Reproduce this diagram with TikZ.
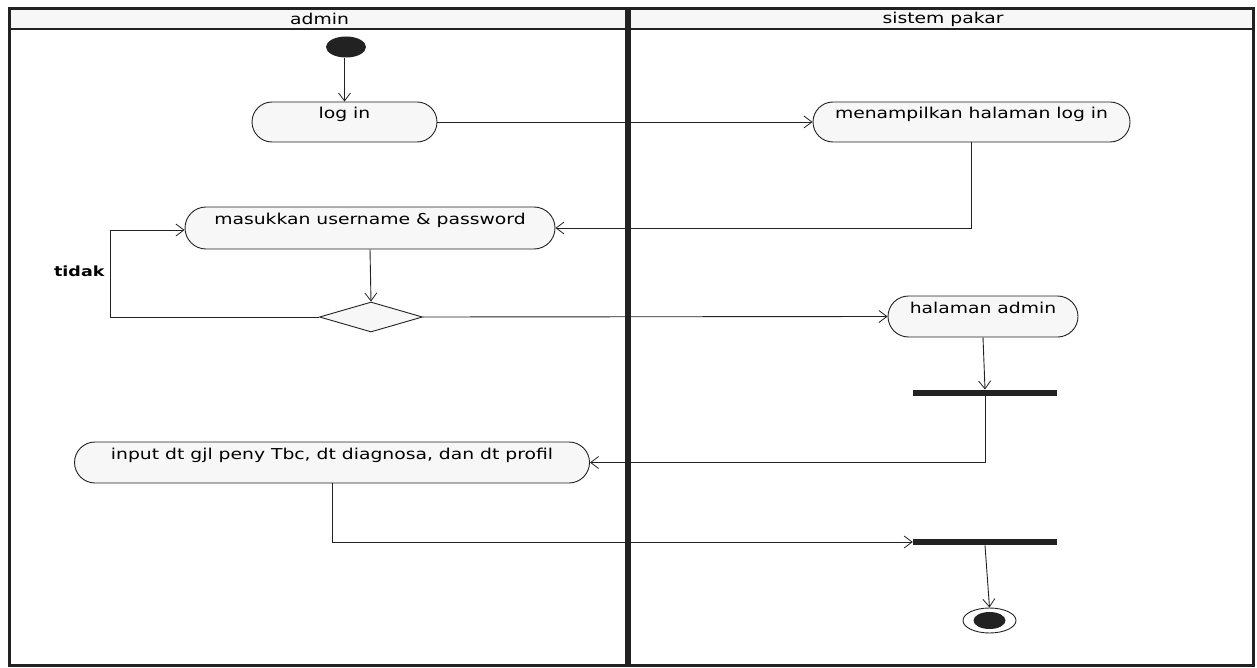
\documentclass[tikz,border=0pt]{standalone}
\usepackage{fontspec}
\usetikzlibrary{arrows.meta,shapes.misc,shapes.geometric}
\newfontfamily\umlfont[FakeStretch=1.25]{DejaVu Sans}
\definecolor{nodefill}{HTML}{F7F7F7}
\definecolor{ink}{HTML}{222222}
\begin{document}
\begin{tikzpicture}[x=1pt,y=-1pt,
  act/.style={rounded rectangle, rounded rectangle arc length=180, draw=ink, line width=0.9pt, fill=nodefill,
    inner sep=0pt, text height=8pt, text depth=15pt, font=\umlfont\fontsize{15}{15}\selectfont},
  bar/.style={rectangle, fill=ink, inner sep=0pt, minimum width=144pt, minimum height=6.5pt},
  flow/.style={draw=ink, line width=0.9pt, -{Straight Barb[length=8pt,width=12pt,line width=0.8pt]}},
  lane/.style={font=\umlfont\fontsize{15}{15}\selectfont}]
\useasboundingbox (0,0) rectangle (1257,668);
% frame
\fill[gray!6] (9,9) rectangle (1253,29);
\draw[ink, line width=3pt] (9,9) rectangle (1253,665);
\draw[ink, line width=1.6pt] (9,29) -- (1253,29);
\draw[ink, line width=6pt] (628,8) -- (628,666);
\node[lane] (laneA) at (319.5,19) {admin};
\node[lane] (laneB) at (943,19) {sistem pakar};
% nodes
\node[ellipse, fill=ink, minimum width=40pt, minimum height=21pt, inner sep=0pt] (start) at (346,47) {};
\node[act, minimum width=185pt, minimum height=40pt] (login) at (344.5,122) {log in};
\node[act, minimum width=317pt, minimum height=40pt] (men) at (971.5,122) {menampilkan halaman log in};
\node[act, minimum width=370pt, minimum height=42pt] (mas) at (370,228) {masukkan username \& password};
\node[diamond, draw=ink, line width=0.9pt, fill=nodefill, minimum width=103pt, minimum height=30pt, inner sep=0pt, aspect=3.4] (dec) at (371,317) {};
\node[act, minimum width=190pt, minimum height=41pt] (adm) at (983,316.5) {halaman admin};
\node[bar] (bar1) at (985,393) {};
\node[act, minimum width=515pt, minimum height=41pt] (inp) at (332,462.5) {input dt gjl peny Tbc, dt diagnosa, dan dt profil};
\node[bar] (bar2) at (985,542) {};
\node[ellipse, draw=ink, line width=0.9pt, fill=white, minimum width=53pt, minimum height=25pt, inner sep=0pt] (end) at (989.5,620.5) {};
\node[ellipse, fill=ink, minimum width=32pt, minimum height=17pt, inner sep=0pt] (endc) at (989.5,620.5) {};
\node[font=\umlfont\bfseries\fontsize{14}{14}\selectfont, anchor=east] (tidak) at (108,271) {tidak};
% connectors
\coordinate (t1) at (110,317);
\draw[flow] (start.south -| login.north) -- (login.north);
\draw[flow] (login.east) -- (men.west);
\draw[flow] (men.south) |- (mas.east);
\draw[flow] (mas.south) -- (dec.north);
\draw[flow] (dec.west) -- (t1) |- ([yshift=-2pt]mas.west);
\draw[flow] (dec.east) -- (adm.west);
\draw[flow] (adm.south) -- (bar1.north);
\draw[flow] (bar1.south) |- (inp.east);
\draw[flow] (inp.south) |- (bar2.west);
\draw[flow] (bar2.south) -- (end.north);
\end{tikzpicture}
\end{document}
